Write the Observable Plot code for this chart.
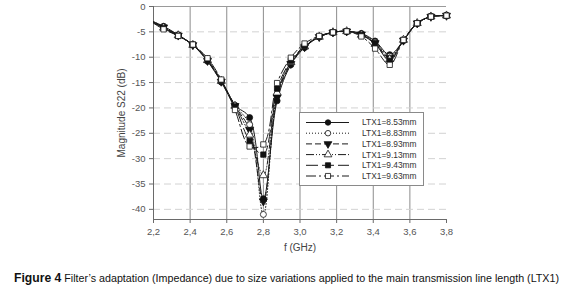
<!DOCTYPE html>
<html>
<head>
<meta charset="utf-8">
<script src="https://cdn.jsdelivr.net/npm/d3@7"></script>
<script src="https://cdn.jsdelivr.net/npm/@observablehq/plot@0.6"></script>
<style>
  html, body { margin: 0; padding: 0; background: #fff; }
  #wrap { position: relative; width: 565px; height: 291px; overflow: hidden; }
  #legend { position: absolute; left: 299px; top: 112px; width: 125px; height: 74px; background: #fff; border: 1px solid #8a8a8a; box-sizing: border-box; }
  #caption { position: absolute; left: 14px; top: 271px; white-space: nowrap; font-family: "Liberation Sans", Arial, sans-serif; font-size: 11px; color: #111; transform-origin: 0 50%; display: inline-block; }
  #caption b { font-size: 12.5px; font-weight: bold; }
</style>
</head>
<body>
<div id="wrap">
  <div id="chart"></div>
  <div id="legend"></div>
  <span id="caption"><b>Figure 4</b> Filter’s adaptation (Impedance) due to size variations applied to the main transmission line length (LTX1)</span>
</div>
<script>
// Frequencies (GHz)
const freq = [2.2, 2.255, 2.335, 2.415, 2.495, 2.57, 2.645, 2.725, 2.8, 2.875, 2.95, 3.025, 3.105, 3.18, 3.255, 3.335, 3.41, 3.49, 3.565, 3.64, 3.715, 3.8];

// Magnitude S22 (dB) per LTX1 length
const ltx853 = [-3.0, -3.9, -5.6, -7.6, -10.8, -14.9, -19.5, -21.9, -37.9, -18.6, -11.5, -8.1, -6.0, -5.1, -4.9, -5.3, -6.8, -9.5, -6.7, -3.3, -2.0, -1.8];
const ltx883 = [-3.0, -4.0, -5.6, -7.6, -10.7, -14.8, -19.5, -23.3, -41.0, -17.6, -11.2, -8.0, -6.0, -5.1, -4.9, -5.4, -7.0, -9.8, -6.7, -3.3, -2.0, -1.8];
const ltx893 = [-3.1, -4.1, -5.7, -7.6, -10.7, -14.8, -19.6, -24.3, -38.4, -17.9, -11.3, -8.0, -6.0, -5.1, -4.9, -5.5, -7.2, -10.1, -6.7, -3.3, -2.0, -1.8];
const ltx913 = [-3.1, -4.2, -5.7, -7.6, -10.6, -14.7, -19.6, -25.3, -33.3, -17.0, -11.0, -7.9, -6.0, -5.1, -4.9, -5.6, -7.4, -10.4, -6.6, -3.3, -2.0, -1.8];
const ltx943 = [-3.2, -4.3, -5.8, -7.5, -10.5, -14.6, -19.7, -26.5, -29.2, -16.2, -10.7, -7.8, -5.9, -5.1, -4.9, -5.6, -7.3, -10.7, -6.6, -3.3, -2.0, -1.8];
const ltx963 = [-3.3, -4.5, -5.8, -7.5, -10.2, -14.4, -20.4, -27.6, -27.2, -15.1, -10.1, -7.3, -5.8, -5.1, -4.9, -5.9, -8.3, -11.5, -6.6, -3.3, -2.0, -1.8];

const seriesNames = ["LTX1=8.53mm", "LTX1=8.83mm", "LTX1=8.93mm", "LTX1=9.13mm", "LTX1=9.43mm", "LTX1=9.63mm"];
const seriesValues = [ltx853, ltx883, ltx893, ltx913, ltx943, ltx963];

const xTicks = [2.2, 2.4, 2.6, 2.8, 3.0, 3.2, 3.4, 3.6, 3.8];
const yTicks = [0, -5, -10, -15, -20, -25, -30, -35, -40];

// Styles (not data)
const styles = [
  {dash: null, symbol: "circle", fill: "#111", rotate: 0},
  {dash: "1,2", symbol: "circle", fill: "#fff", rotate: 0},
  {dash: "6,3", symbol: "triangle", fill: "#111", rotate: 180},
  {dash: "8,2,1,2,1,2", symbol: "triangle", fill: "#fff", rotate: 0},
  {dash: "12,4", symbol: "square", fill: "#111", rotate: 0},
  {dash: "10,3,2,3", symbol: "square", fill: "#fff", rotate: 0}
];

const rows = seriesNames.flatMap((name, i) => freq.map((f, j) => ({x: f, y: seriesValues[i][j], s: name, j})));

const fontFam = '"Liberation Sans", Arial, sans-serif';
const fmtX = d => d.toFixed(1).replace(".", ",");

const marks = [
  Plot.ruleX(xTicks.filter(d => d > 2.2 && d < 3.8), {stroke: "#8c8c8c", strokeWidth: 1}),
  Plot.ruleY(yTicks.filter(d => d < 0), {stroke: "#d2d2d2", strokeWidth: 1, strokeDasharray: "7,4"}),
  Plot.ruleY([0], {stroke: "#9a9a9a"}),
  Plot.ruleX([2.2], {stroke: "#6a6a6a"}),
  Plot.ruleY([-42], {stroke: "#6a6a6a"}),
  Plot.axisX({ticks: xTicks, tickFormat: fmtX, tickSize: 4, tickPadding: 5, stroke: "#6a6a6a", fill: "#555", label: null, fontSize: 9.5}),
  Plot.axisX({ticks: [], label: "f (GHz)", labelAnchor: "center", labelArrow: "none", labelOffset: 31, fontSize: 10, fill: "#444"}),
  Plot.axisY({ticks: yTicks, tickFormat: d => String(d), tickSize: 4, tickPadding: 4, stroke: "#6a6a6a", fill: "#555", label: null, fontSize: 9.5}),
  Plot.axisY({ticks: [], label: "Magnitude S22 (dB)", labelAnchor: "center", labelArrow: "none", labelOffset: 36, fontSize: 10, fill: "#444"})
];

seriesNames.forEach((name, i) => {
  const st = styles[i];
  const d = rows.filter(r => r.s === name);
  marks.push(Plot.line(d, {x: "x", y: "y", curve: "catmull-rom", stroke: "#1a1a1a", strokeWidth: 1, strokeDasharray: st.dash}));
});
seriesNames.forEach((name, i) => {
  const st = styles[i];
  const d = rows.filter(r => r.s === name && r.j > 0);
  marks.push(Plot.dot(d, {x: "x", y: "y", symbol: st.symbol, r: 3, fill: st.fill, stroke: "#111", strokeWidth: 0.8, rotate: st.rotate}));
});

const chart = Plot.plot({
  width: 565,
  height: 262,
  marginLeft: 153,
  marginRight: 119,
  marginTop: 6,
  marginBottom: 43,
  style: {fontFamily: fontFam, fontSize: "9.5px", color: "#555", background: "#fff"},
  x: {domain: [2.2, 3.8]},
  y: {domain: [-42, 0]},
  marks
});
document.getElementById("chart").appendChild(chart);

// Legend built from the series names & styles
const lg = d3.select("#legend").append("svg").attr("width", 123).attr("height", 72);
const symArea = {circle: 24, triangle: 26, square: 26};
seriesNames.forEach((name, i) => {
  const st = styles[i];
  const y = 9.5 + i * 10.7;
  lg.append("line").attr("x1", 6).attr("x2", 49).attr("y1", y).attr("y2", y)
    .attr("stroke", "#1a1a1a").attr("stroke-width", 1).attr("stroke-dasharray", st.dash);
  const sym = {circle: d3.symbolCircle, triangle: d3.symbolTriangle, square: d3.symbolSquare}[st.symbol];
  lg.append("path").attr("d", d3.symbol(sym, symArea[st.symbol])())
    .attr("transform", `translate(28,${y}) rotate(${st.rotate})`)
    .attr("fill", st.fill).attr("stroke", "#111").attr("stroke-width", 0.8);
  lg.append("text").attr("x", 62).attr("y", y).attr("dy", "0.35em")
    .attr("font-family", fontFam).attr("font-size", "8.4px").attr("fill", "#333").text(name);
});

// Fit caption to the reference width (condensed face)
const cap = document.getElementById("caption");
const w = cap.getBoundingClientRect().width;
cap.style.transform = `scaleX(${545 / w})`;
</script>
</body>
</html>
